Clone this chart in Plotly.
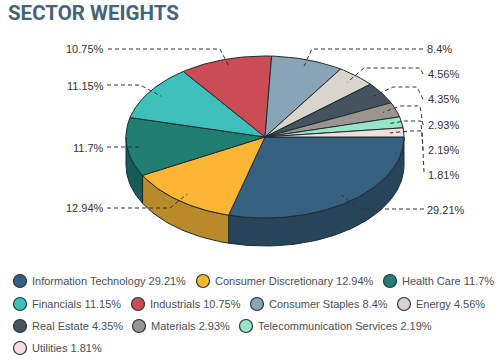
import math
import plotly.graph_objects as go

sectors = ["Information Technology", "Consumer Discretionary", "Health Care", "Financials",
           "Industrials", "Consumer Staples", "Energy", "Real Estate", "Materials",
           "Telecommunication Services", "Utilities"]
weights = [29.21, 12.94, 11.7, 11.15, 10.75, 8.4, 4.56, 4.35, 2.93, 2.19, 1.81]
top_colors = ["#35607f", "#fdb633", "#207f71", "#3fc1bb", "#cc4c56", "#88a4b5", "#d9d4cc",
              "#45535f", "#9b9490", "#98e6c6", "#f3dede"]
side_colors = ["#26455b", "#b98a2a", "#175b55", "#2d8a86", "#92363e", "#617581", "#9b9892",
               "#313b44", "#6f6a67", "#6ca48d", "#ad9e9e"]

# pie geometry in page pixels
CX, CY, RX, RY, DEPTH = 265, 137, 139, 81, 28
EDGE = "#1d2b33"

# label text position and elbow points of each leader line, in page pixels
label_pos = [(425, 210), (106, 208), (106, 148), (106, 86), (106, 49), (425, 49),
             (426, 74), (426, 99), (426, 125), (426, 150), (426, 175)]
elbows = [[(424, 209), (360, 209)], [(107, 208), (170, 208)], [(107, 147), (141, 147)],
          [(107, 85), (140, 85)], [(108, 49), (220, 49)], [(423, 49), (312, 49)],
          [(423, 74), (420, 68), (364, 68)], [(423, 99), (417, 87), (393, 87)],
          [(423, 125), (420, 106), (400, 106)], [(423, 150), (421, 121), (405, 121)],
          [(424, 172), (422, 131), (410, 131)]]
legend_pos = [(20, 281), (203, 281), (390, 281), (20, 304), (138, 304), (257, 304),
              (404, 304), (20, 326), (139, 326), (246, 326), (20, 348)]


def pt(a, r=1.0, dy=0.0):
    return CX + RX * r * math.cos(a), CY + RY * r * math.sin(a) + dy


def arc(a0, a1):
    n = max(2, int(abs(a1 - a0) * 40))
    return [a0 + (a1 - a0) * i / n for i in range(n + 1)]


fig = go.Figure()


def poly(points, fill):
    fig.add_trace(go.Scatter(x=[p[0] for p in points], y=[p[1] for p in points], mode="lines",
                             fill="toself", fillcolor=fill, line=dict(color=EDGE, width=1),
                             hoverinfo="skip", showlegend=False))


total = sum(weights)
spans, acc = [], 0.0
for w in weights:
    a0 = acc / total * 2 * math.pi
    acc += w
    spans.append((a0, acc / total * 2 * math.pi))

# side walls (only the front half of the rim is visible)
for (a0, a1), col in zip(spans, side_colors):
    b0, b1 = a0, min(a1, math.pi)
    if b0 < b1:
        angs = arc(b0, b1)
        poly([pt(a) for a in angs] + [pt(a, dy=DEPTH) for a in reversed(angs)] + [pt(b0)], col)

# top faces
for (a0, a1), col in zip(spans, top_colors):
    poly([(CX, CY)] + [pt(a) for a in arc(a0, a1)] + [(CX, CY)], col)

# leader lines and labels
for (a0, a1), w, lp, el in zip(spans, weights, label_pos, elbows):
    inner = pt((a0 + a1) / 2, 0.9)
    pts = el + [inner]
    fig.add_trace(go.Scatter(x=[p[0] for p in pts], y=[p[1] for p in pts], mode="lines",
                             line=dict(color="#333333", width=1, dash="4px,3px"),
                             hoverinfo="skip", showlegend=False))
    left_side = lp[0] < CX
    fig.add_annotation(x=lp[0], y=lp[1], text=f"{w}%", showarrow=False,
                       xanchor="right" if left_side else "left", yanchor="middle", xshift=0,
                       font=dict(family="Liberation Sans", size=11, color="#333333"))

# legend
for name, w, col, (lx, ly) in zip(sectors, weights, top_colors, legend_pos):
    fig.add_trace(go.Scatter(x=[lx], y=[ly], mode="markers",
                             marker=dict(size=13, color=col, line=dict(color="#2a353c", width=1.2)),
                             hoverinfo="skip", showlegend=False))
    fig.add_annotation(x=lx + 10, y=ly, text=f"{name} {w}%", showarrow=False,
                       xanchor="left", yanchor="middle",
                       font=dict(family="Liberation Sans", size=11, color="#4a4f55"))

fig.add_annotation(x=6, y=13, text="<b>SECTOR WEIGHTS</b>", showarrow=False, xanchor="left",
                   yanchor="middle", font=dict(family="Roboto", size=20.5, color="#44637b"))

fig.update_layout(width=500, height=361, margin=dict(l=0, r=0, t=0, b=0),
                  paper_bgcolor="white", plot_bgcolor="white", showlegend=False,
                  xaxis=dict(range=[0, 500], visible=False, fixedrange=True),
                  yaxis=dict(range=[361, 0], visible=False, fixedrange=True))
fig.write_html("out.html", config={"displayModeBar": False},
               post_script="document.body.style.margin='0';document.documentElement.style.overflow='hidden';")
